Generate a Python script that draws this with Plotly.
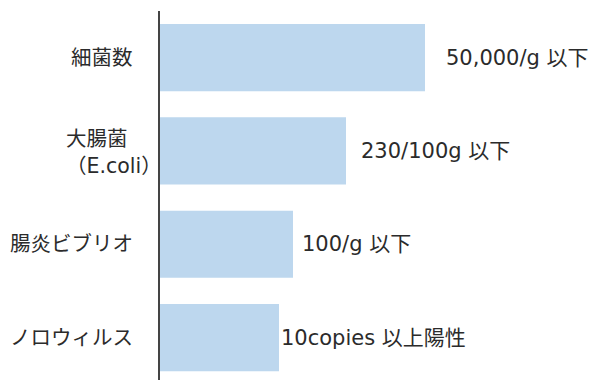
import plotly.graph_objects as go

# Categories (top to bottom), relative bar lengths and the limit text shown beside each bar
categories = ["細菌数", "大腸菌<br>（E.coli）", "腸炎ビブリオ", "ノロウィルス"]
bar_len = [265, 186, 133, 119]
limit_text = ["50,000/g 以下", "230/100g 以下", "100/g 以下", "10copies 以上陽性"]
label_gap = [19, 13, 7, 0]

FONT = "DejaVu Sans, Noto Sans CJK JP, sans-serif"
TEXT_COLOR = "#2b2b2b"
VALUE_SIZE = 21
CAT_SIZE = 20.5

y_idx = list(range(len(categories)))

fig = go.Figure(
    go.Bar(
        x=bar_len,
        y=y_idx,
        orientation="h",
        width=0.72,
        marker=dict(color="#BDD7EE", line=dict(width=0)),
        hoverinfo="skip",
    )
)

annotations = []
# value labels to the right of each bar
for i, (v, t, g) in enumerate(zip(bar_len, limit_text, label_gap)):
    annotations.append(dict(
        x=v, y=i, xref="x", yref="y", text=t, showarrow=False,
        xanchor="left", yanchor="middle", xshift=g,
        font=dict(family=FONT, size=VALUE_SIZE, color=TEXT_COLOR),
    ))

# category labels on the left of the axis line
for i, c in enumerate(categories):
    if "<br>" in c:
        annotations.append(dict(
            x=0, y=i, xref="paper", yref="y", text=c, showarrow=False,
            xanchor="left", yanchor="middle", xshift=-96, yshift=-2, align="left",
            font=dict(family=FONT, size=CAT_SIZE, color=TEXT_COLOR),
        ))
    else:
        annotations.append(dict(
            x=0, y=i, xref="paper", yref="y", text=c, showarrow=False,
            xanchor="right", yanchor="middle", xshift=-25,
            font=dict(family=FONT, size=CAT_SIZE, color=TEXT_COLOR),
        ))

fig.update_layout(
    width=593, height=380,
    margin=dict(l=160, r=0, t=11, b=0),
    paper_bgcolor="white", plot_bgcolor="white",
    showlegend=False,
    annotations=annotations,
    xaxis=dict(range=[0, 433], visible=False, fixedrange=True),
    yaxis=dict(
        range=[3.455, -0.5], showticklabels=False, ticks="",
        showgrid=False, zeroline=False,
        showline=True, linecolor="#444444", linewidth=2,
        fixedrange=True,
    ),
)

fig.write_html("out.html")
